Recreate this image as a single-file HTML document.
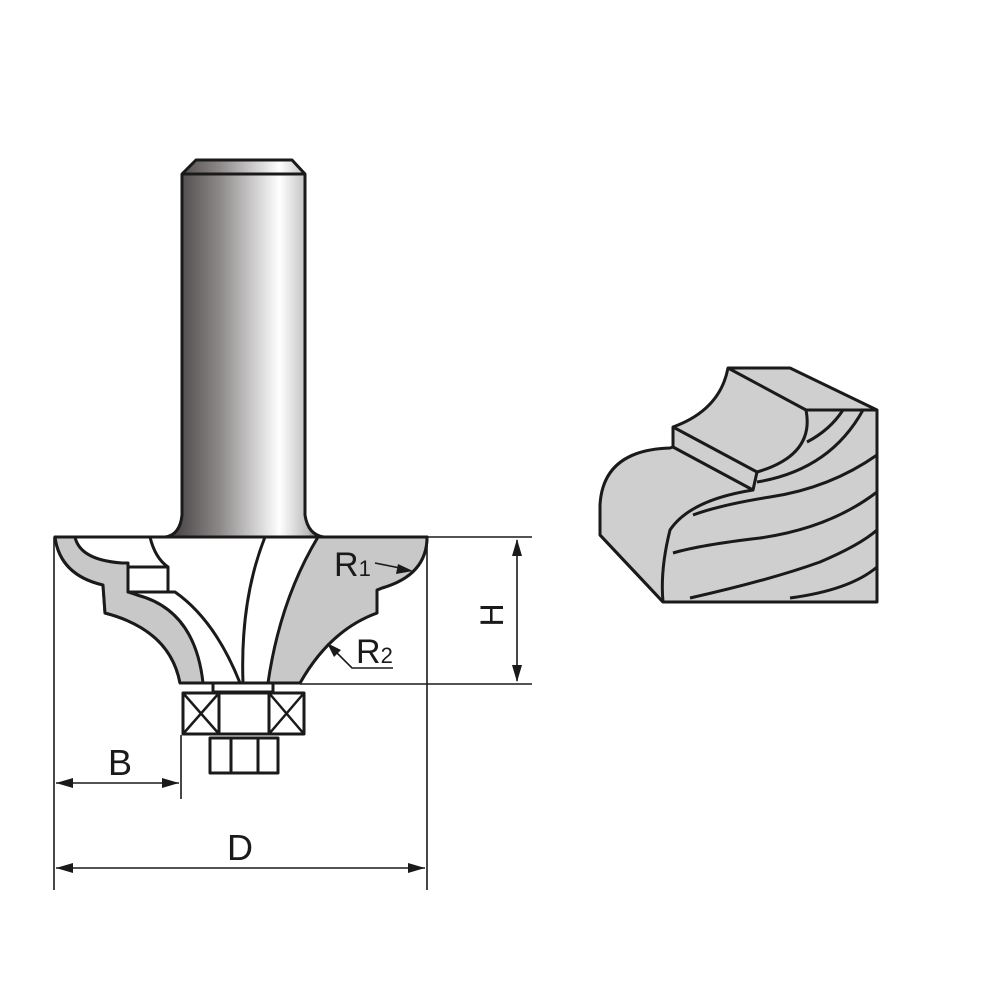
<!DOCTYPE html>
<html><head><style>html,body{margin:0;padding:0;background:#fff}svg{display:block}</style></head><body>
<svg width="1000" height="1000" viewBox="0 0 1000 1000" xmlns="http://www.w3.org/2000/svg" font-family="Liberation Sans, sans-serif">
<defs>
<linearGradient id="sh" x1="0" x2="1" y1="0" y2="0">
<stop offset="0" stop-color="#3a3536"/><stop offset="0.35" stop-color="#8e8a8a"/><stop offset="0.72" stop-color="#ffffff"/><stop offset="0.9" stop-color="#bcbcbc"/><stop offset="1" stop-color="#4a4546"/>
</linearGradient>
</defs>
<g stroke="#1a1a1a" stroke-width="3" stroke-linejoin="round">
<path d="M182,174 L196,160 L292,160 L305,174 L305,515 Q308,535 324,537 L165,537 Q180,535 182,515 Z" fill="url(#sh)"/>
<line x1="182" y1="174" x2="305" y2="174"/>
<path d="M55,537 L427,537 Q427,575 382,588 L377,590 L377,613 Q330,630 300,683 L180,683 Q170,630 105,613 L103,585 Q60,575 55,537 Z" fill="#fff"/>
<path d="M55,537 L75,537 Q80,560 122,563 L128,563 L128,592 L137,595 Q195,610 203,683 L180,683 Q170,630 105,613 L103,585 Q60,575 55,537 Z" fill="#c8c8c8"/>
<path d="M318,537 L427,537 Q427,575 382,588 L377,590 L377,613 Q330,630 300,683 L268,683 Q280,600 318,537 Z" fill="#c8c8c8"/>
<rect x="128" y="567" width="40" height="25" fill="#fff"/>
<path d="M150,537 Q155,558 168,567" fill="none"/>
<path d="M168,592 L175,592 Q215,620 240,683" fill="none"/>
<path d="M265,537 Q240,600 243,683" fill="none"/>
<line x1="55" y1="537" x2="427" y2="537"/>
<rect x="213" y="683" width="60" height="9" fill="#fff"/>
<rect x="183" y="693" width="121" height="41" fill="#fff"/>
<line x1="219" y1="693" x2="219" y2="734"/><line x1="269" y1="693" x2="269" y2="734"/>
<path d="M183,693 L219,734 M219,693 L183,734 M269,693 L304,734 M304,693 L269,734" fill="none" stroke-width="2.5"/>
<rect x="210" y="738" width="68" height="35" fill="#fff"/>
<line x1="231" y1="738" x2="231" y2="773"/><line x1="258" y1="738" x2="258" y2="773"/>
</g>
<g stroke="#1a1a1a" stroke-width="1.6" fill="none">
<line x1="54" y1="537" x2="54" y2="890"/>
<line x1="427" y1="537" x2="427" y2="890"/>
<line x1="181" y1="735" x2="181" y2="799"/>
<line x1="427" y1="537" x2="532" y2="537"/>
<line x1="300" y1="684" x2="532" y2="684"/>
<line x1="517" y1="540" x2="517" y2="681"/>
<line x1="56" y1="783" x2="179" y2="783"/>
<line x1="56" y1="868" x2="425" y2="868"/>
<path d="M375,563 L405,569"/>
<path d="M332,648 L352,668 L393,668"/>
</g>
<g fill="#1a1a1a">
<path d="M517,539 L512,556 L522,556 Z"/><path d="M517,682 L512,665 L522,665 Z"/>
<path d="M56,783 L73,778 L73,788 Z"/><path d="M179,783 L162,778 L162,788 Z"/>
<path d="M56,868 L73,863 L73,873 Z"/><path d="M425,868 L408,863 L408,873 Z"/>
<path d="M413,571 L398,564 L396,574 Z"/>
<path d="M327,643 L341,650 L334,657 Z"/>
<text x="120" y="775" font-size="36" text-anchor="middle">B</text>
<text x="240" y="860" font-size="36" text-anchor="middle">D</text>
<text x="334" y="576" font-size="34">R<tspan font-size="22">1</tspan></text>
<text x="356" y="663" font-size="34">R<tspan font-size="22">2</tspan></text>
<text transform="translate(503,615) rotate(-90)" font-size="32" text-anchor="middle">H</text>
</g>
<g stroke="#1a1a1a" stroke-width="3" stroke-linejoin="round" fill="#cfcfcf">
<path d="M600,535 L600,505 Q603,450 670,448 L673,447 L673,427 Q720,410 728,368 L790,368 L877,410 L877,602 L663,602 Z"/>
<path d="M728,368 L806,410 L877,410" fill="none"/>
<path d="M673,427 L757,472 L753,490 L673,447" fill="none"/>
<path d="M806,410 Q815,455 757,472" fill="none"/>
<path d="M753,490 Q690,500 670,530 Q660,570 663,602" fill="none"/>
<path d="M600,535 L663,602" fill="none"/>
<path d="M807,442 Q830,430 843,410" fill="none"/>
<path d="M757,482 Q830,470 863,410" fill="none"/>
<path d="M693,515 Q720,505 770,497 Q830,488 877,455" fill="none"/>
<path d="M673,553 Q700,545 760,538 Q830,528 877,492" fill="none"/>
<path d="M690,598 Q770,580 820,562 Q860,545 877,530" fill="none"/>
<path d="M790,598 Q850,590 877,567" fill="none"/>
</g>
</svg>
</body></html>
